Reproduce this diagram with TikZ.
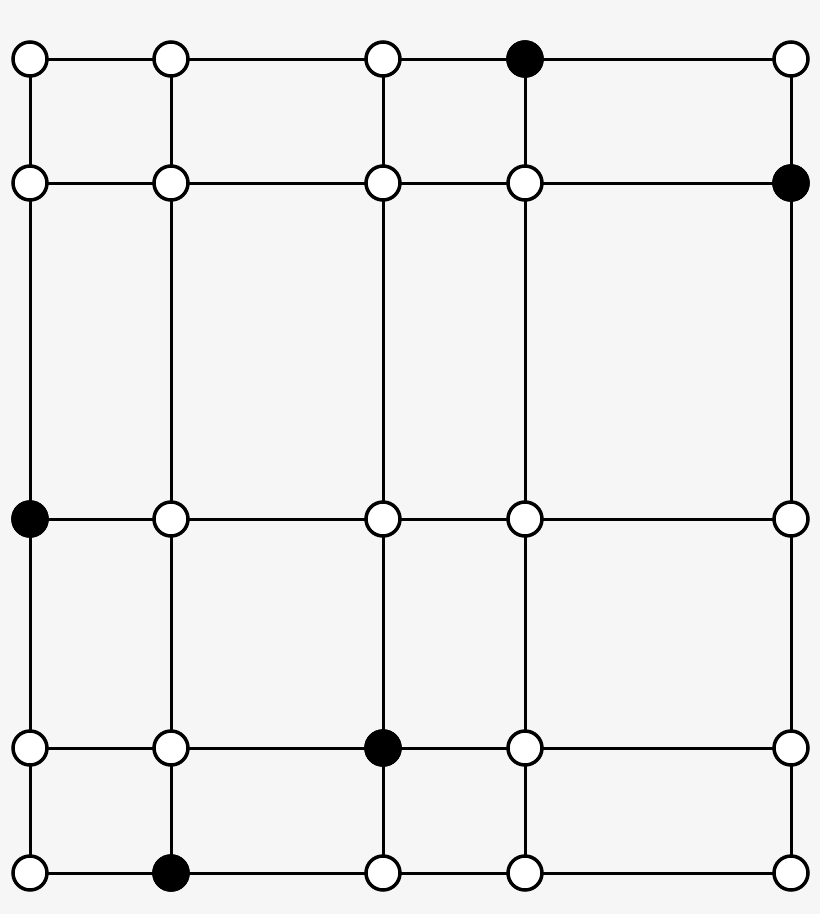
\documentclass[tikz,border=0pt]{standalone}
\definecolor{bg}{HTML}{F6F6F6}
\tikzset{
  wn/.style={circle,draw=black,fill=white,line width=3.5pt,minimum size=34pt,inner sep=0pt},
  bn/.style={wn,fill=black},
  edge/.style={line width=3pt}
}
\begin{document}
\begin{tikzpicture}[x=1pt,y=-1pt]
\fill[bg] (0,0) rectangle (820,914);
\useasboundingbox (0,0) rectangle (820,914);
\foreach \c/\x in {1/30,2/171,3/383,4/525,5/791}{
  \foreach \r/\y in {1/59,2/183,3/519,4/748,5/873}{
    \coordinate (p\c\r) at (\x,\y);
  }
}
\foreach \r in {1,...,5}{
  \draw[edge] (p1\r) -- (p5\r);
}
\foreach \c in {1,...,5}{
  \draw[edge] (p\c1) -- (p\c5);
}
\foreach \c in {1,...,5}{
  \foreach \r in {1,...,5}{
    \node[wn] (n\c\r) at (p\c\r) {};
  }
}
\node[bn] (b41) at (p41) {};
\node[bn] (b52) at (p52) {};
\node[bn] (b13) at (p13) {};
\node[bn] (b34) at (p34) {};
\node[bn] (b25) at (p25) {};
\end{tikzpicture}
\end{document}
